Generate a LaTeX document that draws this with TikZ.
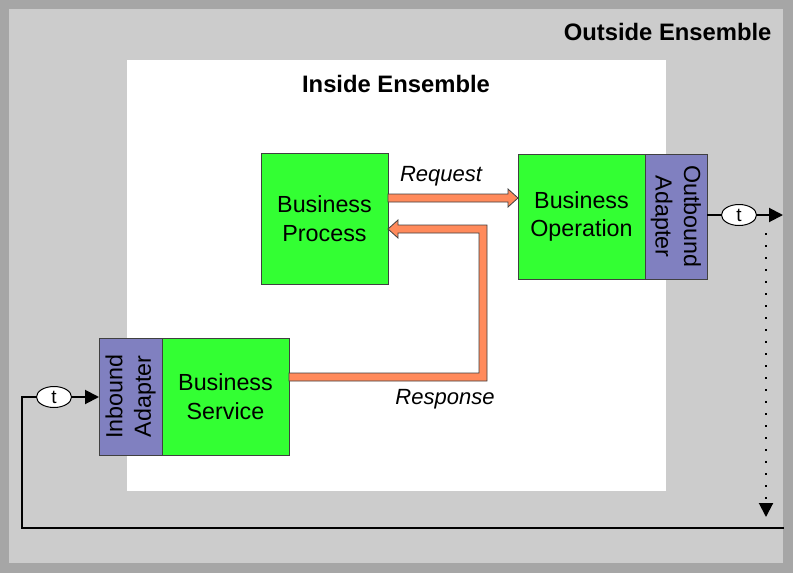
\documentclass[tikz,border=0pt]{standalone}
\usepackage{fontspec}
\setmainfont{Liberation Sans}
\usetikzlibrary{positioning, arrows.meta, calc, shapes.geometric}
\definecolor{outerDark}{HTML}{A6A6A6}
\definecolor{outerLight}{HTML}{CCCCCC}
\definecolor{compGreen}{HTML}{33FF33}
\definecolor{adapterBlue}{HTML}{8080C0}
\definecolor{msgOrange}{HTML}{FF8A5B}
\definecolor{edgeGray}{HTML}{404040}

\begin{document}
\begin{tikzpicture}[x=1pt, y=-1pt, >={Triangle[length=14pt, width=14pt]},
    every node/.style={align=center, font=\fontsize{23.3}{28.5}\selectfont},
    comp/.style={draw=edgeGray, fill=compGreen, minimum width=127pt, inner sep=0pt, outer sep=0pt},
    adapter/.style={draw=edgeGray, fill=adapterBlue, inner sep=0pt, outer sep=0pt},
    timer/.style={draw, ellipse, fill=white, line width=1pt, minimum width=35pt, minimum height=21pt, inner sep=0pt, font=\fontsize{19}{19}\selectfont},
    msg/.style={draw=edgeGray, fill=msgOrange, line width=0.8pt},
    wire/.style={line width=2pt}]
    % Outside ensemble
    \fill[outerDark] (0,0) rectangle (793,573);
    \fill[outerLight] (9,9) rectangle (783,563);
    \useasboundingbox (0,0) rectangle (793,573);
    \node[anchor=east, font=\fontsize{23.8}{28}\bfseries] (outside) at (775,32) {Outside Ensemble};
    % Inside ensemble
    \fill[white] (127,60) rectangle (666,491);
    \node[font=\fontsize{23.8}{28}\bfseries] (inside) at (396,84) {Inside Ensemble};
    % Business Process
    \node[comp, minimum height=131pt] (bp) at (324.5,218.5) {Business\\Process};
    % Business Operation + outbound adapter
    \node[comp, minimum height=125pt] (bo) at (581.5,216.5) {Business\\Operation};
    \node[adapter, rotate=-90, anchor=south west, minimum width=125pt, minimum height=62pt]
        (oa) at (bo.north east) {Outbound\\Adapter};
    % Business Service + inbound adapter
    \node[comp, minimum height=117pt] (bs) at (225.5,396.5) {Business\\Service};
    \node[adapter, rotate=90, anchor=south east, minimum width=117pt, minimum height=63pt]
        (ia) at (bs.north west) {Inbound\\Adapter};
    % Request arrow
    \coordinate (reqA) at ($(bp.east)+(0,-20.5)$);
    \coordinate (reqB) at (bo.west |- reqA);
    \draw[msg] ($(reqA)+(0,-4)$) -- ($(reqB)+(-10,-4)$) -- ($(reqB)+(-10,-9)$) -- (reqB)
        -- ($(reqB)+(-10,9)$) -- ($(reqB)+(-10,4)$) -- ($(reqA)+(0,4)$) -- cycle;
    \node[font=\fontsize{22}{26}\itshape] (req) at (441,176) {Request};
    % Response arrow
    \coordinate (resA) at ($(bs.east)+(0,-19.5)$);
    \coordinate (resB) at ($(bp.east)+(0,10.5)$);
    \draw[msg] ($(resA)+(0,-4)$) -- (479,373) -- (479,233) -- ($(resB)+(10,4)$) -- ($(resB)+(10,9)$)
        -- (resB) -- ($(resB)+(10,-9)$) -- ($(resB)+(10,-4)$) -- (487,225) -- (487,381)
        -- ($(resA)+(0,4)$) -- cycle;
    \node[font=\fontsize{22}{26}\itshape] (res) at (445,399) {Response};
    % Outbound timer
    \node[timer] (tout) at (739,215) {t};
    \coordinate (outEnd) at (783,215);
    \draw[wire] (oa.north |- tout) -- (tout);
    \draw[wire, ->] (tout) -- (outEnd);
    \coordinate (dotTop) at (766,233);
    \coordinate (dotEnd) at (766,517);
    \draw[line width=2pt, dash pattern=on 2pt off 10pt, ->] (dotTop) -- (dotEnd);
    % Inbound loop
    \node[timer] (tin) at (54,397) {t};
    \coordinate (loopR) at (784,528);
    \coordinate (loopL) at (22,528);
    \draw[wire] (loopR) -- (loopL) |- (tin);
    \draw[wire, ->] (tin) -- (ia.north |- tin);
\end{tikzpicture}
\end{document}
